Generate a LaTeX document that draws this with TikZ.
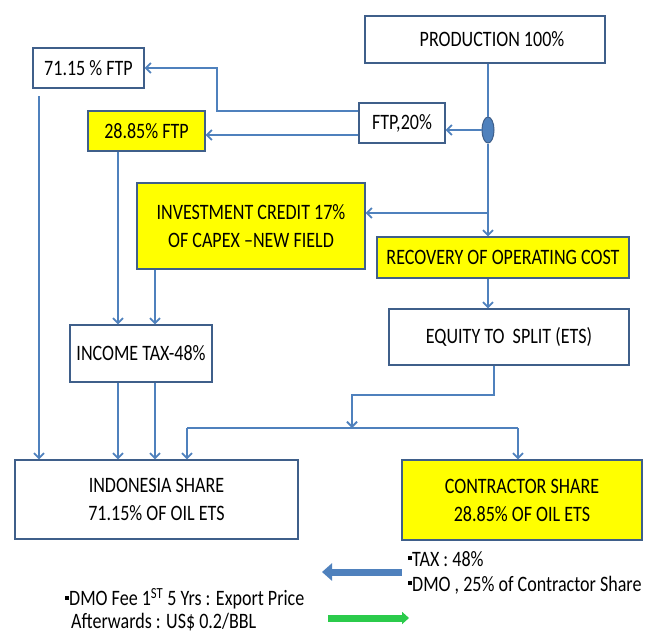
\documentclass[tikz,border=0pt]{standalone}
\usepackage{fontspec}
\setmainfont[FakeStretch=0.82]{Carlito}
\usetikzlibrary{arrows.meta,calc,shapes.geometric}
\definecolor{lineblue}{HTML}{4F81BD}
\definecolor{boxedge}{HTML}{3F5F8A}
\definecolor{ylw}{HTML}{FFFF00}
\definecolor{grn}{HTML}{2BCB4B}
\newcommand{\sqbul}{\raisebox{6pt}{\rule{4pt}{4pt}}}
\begin{document}
\begin{tikzpicture}[x=1pt,y=-1pt,
  box/.style={draw=boxedge, line width=1.3pt, fill=white, inner sep=0pt,
    align=center, font=\fontsize{22}{28}\selectfont},
  ybox/.style={box, fill=ylw},
  conn/.style={draw=lineblue, line width=1.8pt},
  arrowed/.style={conn, -{Straight Barb[length=5pt,width=10pt]}},
  note/.style={align=left, inner sep=0pt, font=\fontsize{22}{23}\selectfont}]
\useasboundingbox (0,0) rectangle (660,635);
\fill[white] (0,0) rectangle (660,635);

% boxes
\node[box, minimum width=240pt, minimum height=47pt] (prod) at (485,39.5) {\hspace*{14pt}PRODUCTION 100\%};
\node[box, minimum width=86pt, minimum height=40pt] (ftp20) at (402,123) {FTP,20\%};
\node[box, minimum width=111pt, minimum height=40pt] (ftp71) at (88.5,68) {71.15 \% FTP};
\node[ybox, minimum width=117pt, minimum height=40pt] (ftp28) at (146.5,131) {28.85\% FTP};
\node[ybox, minimum width=228pt, minimum height=86pt] (inv) at (251,226) {INVESTMENT CREDIT 17\%\\OF CAPEX --NEW FIELD};
\node[ybox, minimum width=252pt, minimum height=41pt] (rec) at (503,257.5) {RECOVERY OF OPERATING COST};
\node[box, minimum width=240pt, minimum height=56pt] (eq) at (509,337) {EQUITY TO\ \ SPLIT (ETS)};
\node[box, minimum width=142pt, minimum height=57pt] (tax) at (141,353.5) {INCOME TAX-48\%};
\node[box, minimum width=283pt, minimum height=79pt] (indo) at (156.5,499.5) {INDONESIA SHARE\\71.15\% OF OIL ETS};
\node[ybox, minimum width=240pt, minimum height=80pt] (contr) at (522,500) {CONTRACTOR SHARE\\28.85\% OF OIL ETS};
\node[draw=boxedge, line width=1pt, fill=lineblue, ellipse, minimum width=12pt, minimum height=26pt, inner sep=0pt] (ell) at (488,130) {};

% helper coordinates
\coordinate (j1) at (488,213);
\coordinate (k1) at (217,111);
\coordinate (k2) at (359,135);
\coordinate (m1) at (494,395);
\coordinate (m2) at (352,395);
\coordinate (h1) at (187,428);
\coordinate (h2) at (518,428);
\coordinate (s71) at (39,96);
\coordinate (cA) at (118,0);
\coordinate (cB) at (155,0);

% connectors
\draw[conn] (prod.south -| ell) -- (ell.north);
\draw[arrowed] (ell.south) -- (rec.north -| ell);
\draw[arrowed] (ell.west) -- (ftp20.east |- ell.west);
\draw[arrowed] (j1) -- (inv.east |- j1);
\draw[arrowed] (ftp20.west |- k1) -- (k1) -- (k1 |- ftp71.east) -- (ftp71.east);
\draw[arrowed] (ftp20.west |- k2) -- (ftp28.east |- k2);
\draw[arrowed] (rec.south -| ell) -- (eq.north -| ell);
\draw[arrowed] (ftp28.south -| cA) -- (tax.north -| cA);
\draw[arrowed] (inv.south -| cB) -- (tax.north -| cB);
\draw[arrowed] (tax.south -| cA) -- (indo.north -| cA);
\draw[arrowed] (tax.south -| cB) -- (indo.north -| cB);
\draw[arrowed] (s71) -- (indo.north -| s71);
\draw[arrowed] (eq.south -| m1) -- (m1) -- (m2) -- (m2 |- h1);
\draw[conn] (h1) -- (h2);
\draw[arrowed] (h1) -- (indo.north -| h1);
\draw[arrowed] (h2) -- (contr.north -| h2);

% block arrows
\coordinate (ba1) at (322,572);
\coordinate (ba2) at (402,572);
\coordinate (ga1) at (328,618);
\coordinate (ga2) at (409,618);
\draw[lineblue, line width=7pt, {Triangle[length=10pt,width=17pt]}-] (ba1) -- (ba2);
\draw[grn, line width=7pt, -{Triangle[length=7pt,width=12pt]}] (ga1) -- (ga2);

% notes
\node[note, anchor=north west] (tn) at (408,551) {\sqbul TAX : 48\%\\[2pt]\sqbul DMO , 25\% of Contractor Share};
\node[note, anchor=north west] (dn) at (65,588) {\sqbul DMO Fee 1\textsuperscript{ST} 5 Yrs : Export Price\\\hspace*{6pt}Afterwards : US\$ 0.2/BBL};
\end{tikzpicture}
\end{document}
